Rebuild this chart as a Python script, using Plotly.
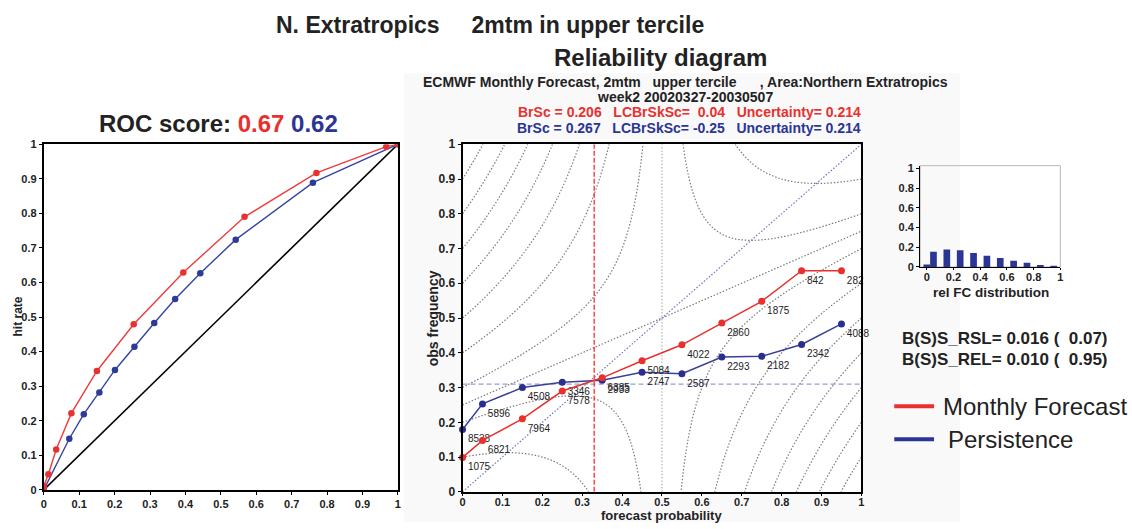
import numpy as np
import plotly.graph_objects as go

W, H = 1132, 529
RED = "#e8312f"
BLUE = "#2b3594"
FONT = "Liberation Sans, Arial, sans-serif"

# ---------------- data ----------------
# ROC curves (false alarm rate, hit rate)
roc_fc_far = [0.0, 0.0, 0.013, 0.035, 0.078, 0.150, 0.254, 0.394, 0.567, 0.770, 0.967, 1.0]
roc_fc_hr = [0.0, 0.010, 0.045, 0.117, 0.222, 0.344, 0.479, 0.629, 0.790, 0.917, 0.993, 1.0]
roc_ps_far = [0.0, 0.072, 0.113, 0.157, 0.201, 0.256, 0.312, 0.371, 0.442, 0.542, 0.760, 1.0]
roc_ps_hr = [0.0, 0.148, 0.219, 0.282, 0.347, 0.414, 0.483, 0.552, 0.627, 0.724, 0.889, 1.0]
roc_score_fc = "0.67"
roc_score_ps = "0.62"

# Reliability diagram
rel_prob = [0.0, 0.05, 0.15, 0.25, 0.35, 0.45, 0.55, 0.65, 0.75, 0.85, 0.95]
rel_fc_obs = [0.099, 0.148, 0.210, 0.290, 0.328, 0.377, 0.423, 0.486, 0.548, 0.636, 0.636]
rel_ps_obs = [0.179, 0.253, 0.300, 0.315, 0.321, 0.344, 0.340, 0.388, 0.390, 0.424, 0.483]
rel_fc_n = ["1075", "6821", "7964", "7578", "6385", "5084", "4022", "2860", "1875", "842", "282"]
rel_ps_n = ["8538", "5896", "4508", "3346", "2933", "2747", "2587", "2293", "2182", "2342", "4088"]
obs_clim = 0.31
fc_clim = 0.33
iso_center = 0.5

# relative forecast distribution histogram
hist_prob = [0.0, 0.05, 0.15, 0.25, 0.35, 0.45, 0.55, 0.65, 0.75, 0.85, 0.95]
hist_rel = [0.025, 0.155, 0.178, 0.170, 0.143, 0.113, 0.090, 0.064, 0.043, 0.019, 0.007]

tick_vals = [0, 0.1, 0.2, 0.3, 0.4, 0.5, 0.6, 0.7, 0.8, 0.9, 1]
tick_text = ["0", "0.1", "0.2", "0.3", "0.4", "0.5", "0.6", "0.7", "0.8", "0.9", "1"]
hist_tick_vals = [0, 0.2, 0.4, 0.6, 0.8, 1]
hist_tick_text = ["0", "0.2", "0.4", "0.6", "0.8", "1"]


def px(x):
    return x / W


def py(y):
    return 1 - y / H


def bold(lst):
    return ["<b>%s</b>" % t for t in lst]


fig = go.Figure()

# ---------------- ROC panel ----------------
fig.add_trace(go.Scatter(x=[0, 1], y=[0, 1], mode="lines", line=dict(color="black", width=1.6),
                         xaxis="x", yaxis="y", hoverinfo="skip"))
fig.add_trace(go.Scatter(x=roc_ps_far, y=roc_ps_hr, mode="lines+markers",
                         line=dict(color="#3545a5", width=1.4), marker=dict(size=6.5, color="#2e3a98"),
                         xaxis="x", yaxis="y"))
fig.add_trace(go.Scatter(x=roc_fc_far, y=roc_fc_hr, mode="lines+markers",
                         line=dict(color="#ee3b3b", width=1.4), marker=dict(size=6.5, color=RED),
                         xaxis="x", yaxis="y"))

# ---------------- Reliability panel ----------------
gx = np.linspace(0, 1, 241)
GX, GY = np.meshgrid(gx, gx)
GZ = (2 * GY - GX - iso_center) * (GX - iso_center)
fig.add_trace(go.Contour(x=gx, y=gx, z=GZ, xaxis="x2", yaxis="y2", showscale=False,
                         contours=dict(coloring="none", start=-0.65, end=0.15, size=0.1),
                         line=dict(color="#7a7a7a", width=1.2, dash="1.5px,1.8px", smoothing=1),
                         hoverinfo="skip"))
# zero isolines
fig.add_trace(go.Scatter(x=[iso_center, iso_center], y=[0, 1], mode="lines",
                         line=dict(color="#b4b4b4", width=1.2, dash="1.5px,1.8px"),
                         xaxis="x2", yaxis="y2", hoverinfo="skip"))
fig.add_trace(go.Scatter(x=[0, 1], y=[iso_center / 2, (1 + iso_center) / 2], mode="lines",
                         line=dict(color="#7a7a7a", width=1.2, dash="1.5px,1.8px"),
                         xaxis="x2", yaxis="y2", hoverinfo="skip"))
# perfect reliability diagonal
fig.add_trace(go.Scatter(x=[0, 1], y=[0, 1], mode="lines",
                         line=dict(color="#6f79bd", width=1.2, dash="1.5px,1.8px"),
                         xaxis="x2", yaxis="y2", hoverinfo="skip"))
# climatology lines
fig.add_trace(go.Scatter(x=[0, 1], y=[obs_clim, obs_clim], mode="lines",
                         line=dict(color="#959dd0", width=1.4, dash="5px,3px"),
                         xaxis="x2", yaxis="y2", hoverinfo="skip"))
fig.add_trace(go.Scatter(x=[fc_clim, fc_clim], y=[0, 1], mode="lines",
                         line=dict(color="#ff2a2a", width=1.3, dash="5px,2px"),
                         xaxis="x2", yaxis="y2", hoverinfo="skip"))
fig.add_trace(go.Scatter(x=rel_prob, y=rel_ps_obs, mode="lines+markers+text", text=rel_ps_n,
                         textposition="bottom right", textfont=dict(size=10, color="#222", family=FONT),
                         line=dict(color="#3a3f9a", width=1.5), marker=dict(size=7, color="#2a2f8f"),
                         xaxis="x2", yaxis="y2", cliponaxis=False))
fig.add_trace(go.Scatter(x=rel_prob, y=rel_fc_obs, mode="lines+markers+text", text=rel_fc_n,
                         textposition="bottom right", textfont=dict(size=10, color="#222", family=FONT),
                         line=dict(color=RED, width=1.5), marker=dict(size=7, color=RED),
                         xaxis="x2", yaxis="y2", cliponaxis=False))

# ---------------- histogram panel ----------------
fig.add_trace(go.Bar(x=hist_prob, y=hist_rel, width=0.05, marker=dict(color=BLUE, line=dict(width=0)),
                     xaxis="x3", yaxis="y3"))

axis_common = dict(showgrid=False, zeroline=False, ticks="outside",
                   tickcolor="black", linecolor="black", showline=True)

fig.update_layout(
    width=W, height=H, margin=dict(l=0, r=0, t=0, b=0),
    paper_bgcolor="white", plot_bgcolor="white", showlegend=False,
    font=dict(family=FONT, color="#222"),
    xaxis=dict(domain=[px(41), px(397)], range=[0, 1], anchor="y", mirror=True, linewidth=2, ticklen=3,
               tickvals=tick_vals, ticktext=bold(tick_text),
               tickfont=dict(size=11, family=FONT, color="#222"), **axis_common),
    yaxis=dict(domain=[py(496), py(141)], range=[0, 1], anchor="x", mirror=True, linewidth=2, ticklen=3,
               tickvals=tick_vals, ticktext=bold(tick_text),
               tickfont=dict(size=11, family=FONT, color="#222"), **axis_common),
    xaxis2=dict(domain=[px(462), px(863)], range=[0, 1], anchor="y2", mirror=True, linewidth=2, ticklen=2,
                tickvals=tick_vals, ticktext=bold(tick_text), ticklabelstandoff=-3,
                tickfont=dict(size=11, family=FONT, color="#222"), **axis_common),
    yaxis2=dict(domain=[py(498), py(141)], range=[0, 1], anchor="x2", mirror=True, linewidth=2, ticklen=3,
                tickvals=tick_vals, ticktext=bold(tick_text),
                tickfont=dict(size=12, family=FONT, color="#222"), **axis_common),
    xaxis3=dict(domain=[px(922), px(1063)], range=[-0.05, 1.0], anchor="y3", linewidth=1.2, ticklen=2,
                tickvals=hist_tick_vals, ticktext=bold(hist_tick_text), ticklabelstandoff=-2,
                tickfont=dict(size=11, family=FONT, color="#222"), **axis_common),
    yaxis3=dict(domain=[py(267), py(163)], range=[0, 1.03], anchor="x3", linewidth=1.2, ticklen=3,
                tickvals=hist_tick_vals, ticktext=bold(hist_tick_text),
                tickfont=dict(size=11, family=FONT, color="#222"), **axis_common),
)

shapes = [
    # faint panel behind reliability diagram
    dict(type="rect", xref="paper", yref="paper", x0=px(403), x1=px(962), y0=0, y1=py(68),
         fillcolor="#f9f9fa", line=dict(width=0), layer="below"),
    dict(type="rect", xref="x2 domain", yref="y2 domain", x0=0, x1=1, y0=0, y1=1,
         fillcolor="white", line=dict(width=0), layer="below"),
    # histogram frame (light)
    dict(type="rect", xref="x3 domain", yref="y3 domain", x0=0, x1=1, y0=0, y1=1,
         line=dict(color="#b8b8b8", width=1), layer="below"),
    # legend lines
    dict(type="line", xref="paper", yref="paper", x0=px(896), x1=px(936), y0=py(410), y1=py(410),
         line=dict(color=RED, width=4)),
    dict(type="line", xref="paper", yref="paper", x0=px(896), x1=px(936), y0=py(444), y1=py(444),
         line=dict(color=BLUE, width=4)),
]

NB = "\u00a0"
annotations = [
    dict(text="<b>N. Extratropics" + NB * 5 + "2mtm in upper tercile</b>", x=px(490), y=py(19),
         font=dict(size=23, family=FONT, color="#222")),
    dict(text="<b>Reliability diagram</b>", x=px(661), y=py(52),
         font=dict(size=24, family=FONT, color="#222")),
    dict(text="<b>ECMWF Monthly Forecast, 2mtm" + NB * 3 + "upper tercile" + NB * 6 + ", Area:Northern Extratropics</b>",
         x=px(686), y=py(77), font=dict(size=14, family=FONT, color="#222")),
    dict(text="<b>week2 20020327-20030507</b>", x=px(686), y=py(92), font=dict(size=14, family=FONT, color="#222")),
    dict(text="<b>BrSc = 0.206" + NB * 3 + "LCBrSkSc=" + NB * 2 + "0.04" + NB * 3 + "Uncertainty= 0.214</b>",
         x=px(690), y=py(108), font=dict(size=14, family=FONT, color=RED)),
    dict(text="<b>BrSc = 0.267" + NB * 3 + "LCBrSkSc= -0.25" + NB * 3 + "Uncertainty= 0.214</b>",
         x=px(690), y=py(124), font=dict(size=14, family=FONT, color=BLUE)),
    dict(text="<b>ROC score: <span style='color:%s'>%s</span> <span style='color:%s'>%s</span></b>"
              % (RED, roc_score_fc, BLUE, roc_score_ps),
         x=px(217), y=py(120), font=dict(size=24, family=FONT, color="#222")),
    dict(text="<b>hit rate</b>", x=px(15), y=py(318), textangle=-90, font=dict(size=12, family=FONT, color="#222")),
    dict(text="<b>obs frequency</b>", x=px(432), y=py(320), textangle=-90,
         font=dict(size=14, family=FONT, color="#222")),
    dict(text="<b>forecast probability</b>", x=px(662), y=py(522), font=dict(size=13, family=FONT, color="#222")),
    dict(text="<b>rel FC distribution</b>", x=px(993), y=py(293), font=dict(size=13.5, family=FONT, color="#222")),
    dict(text="<b>B(S)S_RSL= 0.016 (" + NB * 2 + "0.07)</b>", x=px(902), y=py(341), xanchor="left",
         font=dict(size=17, family=FONT, color="#222")),
    dict(text="<b>B(S)S_REL= 0.010 (" + NB * 2 + "0.95)</b>", x=px(902), y=py(362), xanchor="left",
         font=dict(size=17, family=FONT, color="#222")),
    dict(text="Monthly Forecast", x=px(943), y=py(410), xanchor="left", font=dict(size=24, family=FONT, color="#222")),
    dict(text="Persistence", x=px(948), y=py(444), xanchor="left", font=dict(size=24, family=FONT, color="#222")),
]
for a in annotations:
    a.setdefault("xref", "paper")
    a.setdefault("yref", "paper")
    a.setdefault("showarrow", False)
    a.setdefault("xanchor", "center")
    a.setdefault("yanchor", "middle")

fig.update_layout(shapes=shapes, annotations=annotations)
fig.write_html("out.html")
